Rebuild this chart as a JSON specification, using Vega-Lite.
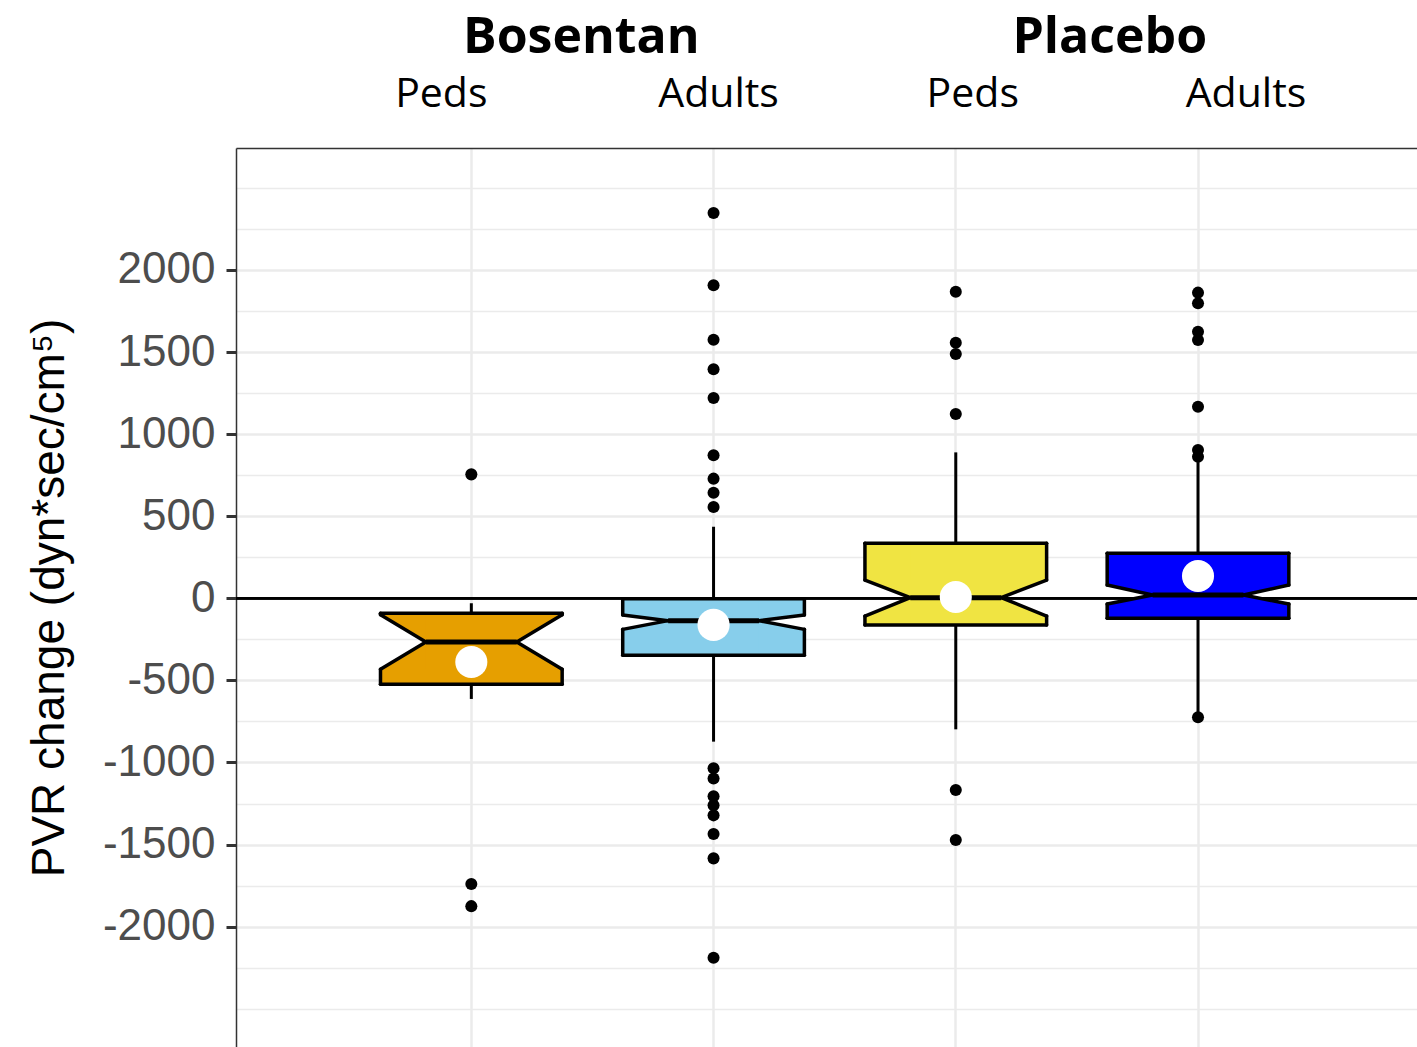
{
  "$schema": "https://vega.github.io/schema/vega-lite/v6.json",
  "width": 1181,
  "height": 899,
  "autosize": {"type": "none"},
  "padding": {"left": 236, "top": 148, "right": 0, "bottom": 0},
  "background": "white",
  "config": {"view": {"stroke": null}},
  "datasets": {
    "stats": [
      {"group": "Bosentan Peds", "q1": -524, "nlo": -432, "med": -266, "nhi": -100, "q3": -91, "wlo": -613, "whi": -30, "mean": -388},
      {"group": "Bosentan Adults", "q1": -347, "nlo": -189, "med": -136, "nhi": -102, "q3": -3, "wlo": -873, "whi": 436, "mean": -162},
      {"group": "Placebo Peds", "q1": -163, "nlo": -108, "med": 4, "nhi": 111, "q3": 335, "wlo": -798, "whi": 889, "mean": 8},
      {"group": "Placebo Adults", "q1": -122, "nlo": -35, "med": 20, "nhi": 81, "q3": 274, "wlo": -700, "whi": 830, "mean": 136}
    ],
    "outliers": [
      {"group": "Bosentan Peds", "value": 755},
      {"group": "Bosentan Peds", "value": -1740},
      {"group": "Bosentan Peds", "value": -1875},
      {"group": "Bosentan Adults", "value": 2347},
      {"group": "Bosentan Adults", "value": 1907},
      {"group": "Bosentan Adults", "value": 1575},
      {"group": "Bosentan Adults", "value": 1395},
      {"group": "Bosentan Adults", "value": 1220},
      {"group": "Bosentan Adults", "value": 871},
      {"group": "Bosentan Adults", "value": 729},
      {"group": "Bosentan Adults", "value": 643},
      {"group": "Bosentan Adults", "value": 556},
      {"group": "Bosentan Adults", "value": -1035},
      {"group": "Bosentan Adults", "value": -1097},
      {"group": "Bosentan Adults", "value": -1206},
      {"group": "Bosentan Adults", "value": -1261},
      {"group": "Bosentan Adults", "value": -1322},
      {"group": "Bosentan Adults", "value": -1436},
      {"group": "Bosentan Adults", "value": -1584},
      {"group": "Bosentan Adults", "value": -2189},
      {"group": "Placebo Peds", "value": 1868},
      {"group": "Placebo Peds", "value": 1557},
      {"group": "Placebo Peds", "value": 1488},
      {"group": "Placebo Peds", "value": 1123},
      {"group": "Placebo Peds", "value": -1168},
      {"group": "Placebo Peds", "value": -1472},
      {"group": "Placebo Adults", "value": 1862},
      {"group": "Placebo Adults", "value": 1797},
      {"group": "Placebo Adults", "value": 1624},
      {"group": "Placebo Adults", "value": 1573},
      {"group": "Placebo Adults", "value": 1167},
      {"group": "Placebo Adults", "value": 903},
      {"group": "Placebo Adults", "value": 863},
      {"group": "Placebo Adults", "value": -725}
    ]
  },
  "layer": [
    {
      "resolve": {"scale": {"xOffset": "independent"}},
      "layer": [
        {
          "data": {"name": "stats"},
          "mark": {"type": "rule", "color": "black", "strokeWidth": 2.5},
          "encoding": {"y": {"datum": 0, "type": "quantitative"}}
        },
        {
          "data": {"name": "stats"},
          "mark": {"type": "rule", "color": "black", "strokeWidth": 3},
          "encoding": {
            "x": {
              "field": "group", "type": "nominal", "bandPosition": 0.5,
              "scale": {"type": "band", "domain": ["Bosentan Peds", "Bosentan Adults", "Placebo Peds", "Placebo Adults"], "paddingInner": 0, "paddingOuter": 0.4378, "align": 0.5385},
              "axis": {
                "orient": "top", "title": null, "labelAngle": 0,
                "labelExpr": "split(datum.value, ' ')[1]",
                "labelFont": "Open Sans", "labelFontSize": 41, "labelColor": "black", "labelPadding": 33,
                "labelOverlap": false, "labelBound": false, "labelLimit": 0,
                "labelOffset": {"condition": [
                  {"test": "datum.value == 'Bosentan Peds'", "value": -30},
                  {"test": "datum.value == 'Bosentan Adults'", "value": 5},
                  {"test": "datum.value == 'Placebo Peds'", "value": 17}
                ], "value": 48},
                "ticks": false, "tickSize": 0,
                "domain": true, "domainColor": "#333333", "domainWidth": 1.5,
                "grid": true, "gridColor": "#EBEBEB", "gridWidth": 2.5, "bandPosition": 0.5
              }
            },
            "y": {
              "field": "q3", "type": "quantitative",
              "scale": {"domain": [-2733, 2743], "nice": false, "zero": false},
              "axis": {
                "orient": "left",
                "values": [-2500, -2250, -2000, -1750, -1500, -1250, -1000, -750, -500, -250, 0, 250, 500, 750, 1000, 1250, 1500, 1750, 2000, 2250, 2500],
                "title": "PVR change (dyn*sec/cm⁵)",
                "titleFont": "Liberation Sans", "titleFontSize": 46, "titleFontWeight": "normal", "titleColor": "black", "titlePadding": 29,
                "labelExpr": "abs(datum.value) <= 2000 && datum.value % 500 == 0 ? '' + datum.value : ''",
                "labelFont": "Liberation Sans", "labelFontSize": 44, "labelColor": "#4D4D4D", "labelPadding": 11,
                "labelOverlap": false, "labelBound": false,
                "tickSize": 10, "tickWidth": 3, "tickColor": "#333333",
                "tickOpacity": {"condition": {"test": "abs(datum.value) <= 2000 && datum.value % 500 == 0", "value": 1}, "value": 0},
                "domainColor": "#333333", "domainWidth": 1.5,
                "grid": true, "gridColor": "#EBEBEB",
                "gridWidth": {"condition": {"test": "abs(datum.value) <= 2000 && datum.value % 500 == 0", "value": 2.5}, "value": 1.3}
              }
            },
            "y2": {"field": "whi"}
          }
        },
        {
          "data": {"name": "stats"},
          "mark": {"type": "rule", "color": "black", "strokeWidth": 3},
          "encoding": {
            "x": {"field": "group", "type": "nominal", "bandPosition": 0.5},
            "y": {"field": "q1", "type": "quantitative"},
            "y2": {"field": "wlo"}
          }
        },
        {
          "data": {"name": "stats"},
          "mark": {"type": "bar", "opacity": 1, "strokeWidth": 0, "width": {"band": 0.385}},
          "encoding": {
            "x": {"field": "group", "type": "nominal"},
            "y": {"field": "q1", "type": "quantitative", "stack": null},
            "y2": {"field": "q3"},
            "color": {"field": "group", "type": "nominal", "legend": null,
              "scale": {"domain": ["Bosentan Peds", "Bosentan Adults", "Placebo Peds", "Placebo Adults"], "range": ["#E69F00", "#87CEEB", "#F0E442", "#0000FF"]}}
          }
        },
        {
          "data": {"name": "stats"},
          "transform": [{"fold": ["nhi", "med"], "as": ["key", "v"]}],
          "mark": {"type": "area", "orient": "vertical", "opacity": 1},
          "encoding": {
            "x": {"field": "group", "type": "nominal"},
            "xOffset": {"field": "key", "type": "nominal", "scale": {"type": "point", "domain": ["nhi", "med", "c", "ri", "r"], "padding": 0.66667, "align": 0.5}},
            "y": {"field": "v", "type": "quantitative", "stack": null},
            "y2": {"field": "q3"},
            "color": {"field": "group", "type": "nominal", "legend": null}
          }
        },
        {
          "data": {"name": "stats"},
          "transform": [{"fold": ["med", "nhi"], "as": ["key", "v"]}],
          "mark": {"type": "area", "orient": "vertical", "opacity": 1},
          "encoding": {
            "x": {"field": "group", "type": "nominal"},
            "xOffset": {"field": "key", "type": "nominal", "scale": {"type": "point", "domain": ["l", "li", "c", "med", "nhi"], "padding": 0.66667, "align": 0.5}},
            "y": {"field": "v", "type": "quantitative", "stack": null},
            "y2": {"field": "q3"},
            "color": {"field": "group", "type": "nominal", "legend": null}
          }
        },
        {
          "data": {"name": "stats"},
          "transform": [{"fold": ["nlo", "med"], "as": ["key", "v"]}],
          "mark": {"type": "area", "orient": "vertical", "opacity": 1},
          "encoding": {
            "x": {"field": "group", "type": "nominal"},
            "xOffset": {"field": "key", "type": "nominal", "scale": {"type": "point", "domain": ["nlo", "med", "c", "ri", "r"], "padding": 0.66667, "align": 0.5}},
            "y": {"field": "v", "type": "quantitative", "stack": null},
            "y2": {"field": "q1"},
            "color": {"field": "group", "type": "nominal", "legend": null}
          }
        },
        {
          "data": {"name": "stats"},
          "transform": [{"fold": ["med", "nlo"], "as": ["key", "v"]}],
          "mark": {"type": "area", "orient": "vertical", "opacity": 1},
          "encoding": {
            "x": {"field": "group", "type": "nominal"},
            "xOffset": {"field": "key", "type": "nominal", "scale": {"type": "point", "domain": ["l", "li", "c", "med", "nlo"], "padding": 0.66667, "align": 0.5}},
            "y": {"field": "v", "type": "quantitative", "stack": null},
            "y2": {"field": "q1"},
            "color": {"field": "group", "type": "nominal", "legend": null}
          }
        },
        {
          "data": {"name": "stats"},
          "mark": {"type": "rule", "color": "black", "strokeWidth": 3.5, "strokeCap": "round"},
          "encoding": {
            "x": {"field": "group", "type": "nominal", "bandPosition": 0.125},
            "x2": {"field": "group", "bandPosition": 0.875},
            "y": {"field": "q3", "type": "quantitative"}
          }
        },
        {
          "data": {"name": "stats"},
          "mark": {"type": "rule", "color": "black", "strokeWidth": 3.5, "strokeCap": "round"},
          "encoding": {
            "x": {"field": "group", "type": "nominal", "bandPosition": 0.125},
            "x2": {"field": "group", "bandPosition": 0.875},
            "y": {"field": "q1", "type": "quantitative"}
          }
        },
        {
          "data": {"name": "stats"},
          "mark": {"type": "rule", "color": "black", "strokeWidth": 3.5, "strokeCap": "round"},
          "encoding": {
            "x": {"field": "group", "type": "nominal", "bandPosition": 0.125},
            "y": {"field": "nhi", "type": "quantitative"},
            "y2": {"field": "q3"}
          }
        },
        {
          "data": {"name": "stats"},
          "mark": {"type": "rule", "color": "black", "strokeWidth": 3.5, "strokeCap": "round"},
          "encoding": {
            "x": {"field": "group", "type": "nominal", "bandPosition": 0.125},
            "y": {"field": "q1", "type": "quantitative"},
            "y2": {"field": "nlo"}
          }
        },
        {
          "data": {"name": "stats"},
          "mark": {"type": "rule", "color": "black", "strokeWidth": 3.5, "strokeCap": "round"},
          "encoding": {
            "x": {"field": "group", "type": "nominal", "bandPosition": 0.875},
            "y": {"field": "nhi", "type": "quantitative"},
            "y2": {"field": "q3"}
          }
        },
        {
          "data": {"name": "stats"},
          "mark": {"type": "rule", "color": "black", "strokeWidth": 3.5, "strokeCap": "round"},
          "encoding": {
            "x": {"field": "group", "type": "nominal", "bandPosition": 0.875},
            "y": {"field": "q1", "type": "quantitative"},
            "y2": {"field": "nlo"}
          }
        },
        {
          "data": {"name": "stats"},
          "mark": {"type": "rule", "color": "black", "strokeWidth": 3.5, "strokeCap": "round"},
          "encoding": {
            "x": {"field": "group", "type": "nominal", "bandPosition": 0.125},
            "x2": {"field": "group", "bandPosition": 0.3125},
            "y": {"field": "nhi", "type": "quantitative"},
            "y2": {"field": "med"}
          }
        },
        {
          "data": {"name": "stats"},
          "mark": {"type": "rule", "color": "black", "strokeWidth": 3.5, "strokeCap": "round"},
          "encoding": {
            "x": {"field": "group", "type": "nominal", "bandPosition": 0.125},
            "x2": {"field": "group", "bandPosition": 0.3125},
            "y": {"field": "nlo", "type": "quantitative"},
            "y2": {"field": "med"}
          }
        },
        {
          "data": {"name": "stats"},
          "mark": {"type": "rule", "color": "black", "strokeWidth": 3.5, "strokeCap": "round"},
          "encoding": {
            "x": {"field": "group", "type": "nominal", "bandPosition": 0.875},
            "x2": {"field": "group", "bandPosition": 0.6875},
            "y": {"field": "nhi", "type": "quantitative"},
            "y2": {"field": "med"}
          }
        },
        {
          "data": {"name": "stats"},
          "mark": {"type": "rule", "color": "black", "strokeWidth": 3.5, "strokeCap": "round"},
          "encoding": {
            "x": {"field": "group", "type": "nominal", "bandPosition": 0.875},
            "x2": {"field": "group", "bandPosition": 0.6875},
            "y": {"field": "nlo", "type": "quantitative"},
            "y2": {"field": "med"}
          }
        },
        {
          "data": {"name": "stats"},
          "mark": {"type": "rule", "color": "black", "strokeWidth": 5},
          "encoding": {
            "x": {"field": "group", "type": "nominal", "bandPosition": 0.3125},
            "x2": {"field": "group", "bandPosition": 0.6875},
            "y": {"field": "med", "type": "quantitative"}
          }
        },
        {
          "data": {"name": "outliers"},
          "mark": {"type": "point", "filled": true, "color": "black", "opacity": 1, "size": 145, "strokeWidth": 0},
          "encoding": {
            "x": {"field": "group", "type": "nominal", "bandPosition": 0.5},
            "y": {"field": "value", "type": "quantitative"}
          }
        }
      ]
    },
    {
      "data": {"name": "stats"},
      "mark": {"type": "point", "filled": true, "color": "white", "opacity": 1, "size": 1030, "strokeWidth": 0},
      "encoding": {
        "x": {
          "field": "group", "type": "nominal", "bandPosition": 0.5,
          "axis": {
            "orient": "top", "title": null, "labelAngle": 0,
            "labelExpr": "datum.value == 'Bosentan Peds' ? 'Bosentan' : datum.value == 'Placebo Peds' ? 'Placebo' : ''",
            "labelFont": "Open Sans", "labelFontSize": 50, "labelFontWeight": "bold", "labelColor": "black", "labelPadding": 86,
            "labelOverlap": false, "labelBound": false, "labelLimit": 0,
            "labelOffset": {"condition": {"test": "datum.value == 'Bosentan Peds'", "value": 110}, "value": 154},
            "ticks": false, "tickSize": 0, "domain": false, "grid": false, "bandPosition": 0.5
          }
        },
        "y": {"field": "mean", "type": "quantitative"}
      }
    }
  ],
  "resolve": {"axis": {"x": "independent"}}
}
